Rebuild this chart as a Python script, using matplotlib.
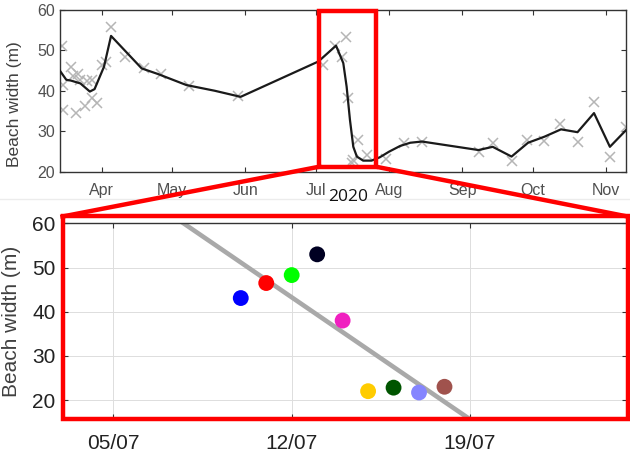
#!/usr/bin/env python
# -*- coding: utf-8 -*-

import matplotlib
matplotlib.use('Agg')
import matplotlib.pyplot as plt
import matplotlib.dates as mdates
from matplotlib.patches import Rectangle
from matplotlib.lines import Line2D
import numpy as np
import pandas as pd

W, H = 630, 454

# smoothed beach width over the season
trend_dates = ['2020-03-14 08:00', '2020-03-17', '2020-03-19', '2020-03-23',
               '2020-03-27', '2020-03-29', '2020-04-02', '2020-04-05',
               '2020-04-18', '2020-04-25', '2020-05-07', '2020-05-19',
               '2020-05-30', '2020-07-02', '2020-07-09 12:00',
               '2020-07-12 14:00', '2020-07-14', '2020-07-15 10:00',
               '2020-07-16 20:00', '2020-07-18 08:00', '2020-07-21',
               '2020-07-24 14:00', '2020-07-28', '2020-08-01', '2020-08-05 16:00',
               '2020-08-10', '2020-08-15', '2020-09-08', '2020-09-14',
               '2020-09-22', '2020-09-29', '2020-10-06', '2020-10-13',
               '2020-10-20', '2020-10-27', '2020-11-02 18:00', '2020-11-09 14:00']
trend_width = [44.9, 42.7, 42.5, 41.8,
               39.8, 40.4, 45.9, 53.5,
               45.5, 44.1, 41.4, 40.0,
               38.5, 47.2, 51.1,
               46.8, 41.0, 32.8,
               26.2, 23.8, 22.8,
               22.8, 23.6, 25.0, 26.4,
               27.2, 27.5, 25.4, 26.2,
               23.8, 27.2, 28.7, 30.5,
               29.8, 34.5, 26.2, 30.3]

# individual shoreline detections
obs_dates = ['2020-03-15', '2020-03-15 16:00', '2020-03-15 16:00', '2020-03-19',
             '2020-03-20', '2020-03-22', '2020-03-21', '2020-03-23',
             '2020-03-26', '2020-03-28', '2020-03-25', '2020-03-28',
             '2020-03-30', '2020-04-01', '2020-04-03', '2020-04-05',
             '2020-04-11', '2020-04-19', '2020-04-26', '2020-05-08',
             '2020-05-29', '2020-07-04', '2020-07-09', '2020-07-12',
             '2020-07-13 16:00', '2020-07-14 16:00', '2020-07-16 20:00',
             '2020-07-16 08:00', '2020-07-19', '2020-07-22 20:00',
             '2020-07-30 16:00', '2020-08-07 12:00', '2020-08-14 20:00',
             '2020-09-08', '2020-09-14', '2020-09-22', '2020-09-28 12:00',
             '2020-10-05 20:00', '2020-10-12 16:00', '2020-10-20',
             '2020-10-27', '2020-11-02 18:00', '2020-11-09 14:00']
obs_width = [50.9, 41.4, 35.3, 45.9,
             43.6, 44.1, 34.6, 42.7,
             42.5, 42.7, 36.3, 38.1,
             37.1, 46.4, 47.2, 55.8,
             48.4, 45.5, 44.1, 41.2,
             38.7, 46.4, 51.0, 48.4,
             53.3, 38.1, 23.0,
             22.3, 28.0, 24.2,
             23.1, 27.1, 27.5,
             25.0, 27.1, 22.8, 27.9,
             27.7, 31.8, 27.5,
             37.3, 23.6, 31.2]

# zoom on the July event
zoom_dates = ['2020-07-10', '2020-07-11', '2020-07-12', '2020-07-13',
              '2020-07-14', '2020-07-15', '2020-07-16', '2020-07-17',
              '2020-07-18']
zoom_width = [43.1, 46.5, 48.3, 53.0, 38.0, 22.0, 22.8, 21.7, 23.0]
zoom_colors = ['#0000ff', '#ff0000', '#00ff00', '#000022', '#f020c0',
               '#ffcc00', '#005500', '#8585ff', '#a0524d']

month_ticks = ['2020-04-01', '2020-05-01', '2020-06-01', '2020-07-01',
               '2020-08-01', '2020-09-01', '2020-10-01', '2020-11-01']
zoom_ticks = ['2020-07-05', '2020-07-12', '2020-07-19']
width_ticks = [20, 30, 40, 50, 60]

SANS = ['Liberation Sans', 'DejaVu Sans']


def to_dt(strings):
    return pd.to_datetime(strings, format='mixed')


def fig_box(x0, y0, x1, y1):
    # pixel box (top-left origin) -> figure fraction [l, b, w, h]
    return [x0 / W, 1 - y1 / H, (x1 - x0) / W, (y1 - y0) / H]


def fig_pt(x, y):
    return x / W, 1 - y / H


def style_axis(ax, color, size):
    ax.tick_params(direction='in', top=True, right=True, length=3.5,
                   width=0.8, colors='#333333', labelcolor=color,
                   labelsize=size)
    for sp_ in ax.spines.values():
        sp_.set_color('#333333')
        sp_.set_linewidth(1.0)
    for lbl in ax.get_xticklabels() + ax.get_yticklabels():
        lbl.set_family(SANS)


def draw_season(fig):
    ax = fig.add_axes(fig_box(60, 9.5, 626, 172))
    ax.plot(to_dt(obs_dates), obs_width, 'x', color='#b5b5b5',
            ms=7, mew=1.1, zorder=2)
    ax.plot(to_dt(trend_dates), trend_width, '-', color='#1a1a1a',
            lw=1.6, zorder=3)
    ax.set_xlim(pd.Timestamp('2020-03-14 08:00'),
                pd.Timestamp('2020-11-09 14:00'))
    ax.set_ylim(20, 60)
    ax.set_yticks([20, 30, 40, 50, 60])
    ax.set_xticks(to_dt(month_ticks))
    ax.xaxis.set_major_formatter(mdates.DateFormatter('%b'))
    style_axis(ax, '#505050', 11.5)
    ax.tick_params(axis='x', pad=8)
    ax.set_ylabel('Beach width (m)', fontsize=12.5, color='#404040',
                  family=SANS)
    ax.yaxis.set_label_coords(-0.067, 0.42)
    return ax


def draw_zoom(fig):
    ax = fig.add_axes(fig_box(62.5, 223, 627, 419))
    ax.grid(True, color='#dddddd', lw=0.7, zorder=0)
    ax.set_axisbelow(True)

    xs = mdates.date2num(to_dt(zoom_dates))
    slope, icept = np.polyfit(xs, zoom_width, 1)
    xlo = pd.Timestamp('2020-07-03')
    xhi = pd.Timestamp('2020-07-25 04:00')
    fit_x = np.array([mdates.date2num(xlo), mdates.date2num(xhi)])
    ax.plot(fit_x, slope * fit_x + icept, '-', color='#a9a9a9', lw=3.3,
            zorder=2, solid_capstyle='butt')
    ax.scatter(xs, zoom_width, s=130, c=zoom_colors, edgecolors='none',
               zorder=3)

    ax.set_xlim(xlo, xhi)
    ax.set_ylim(15.7, 60.1)
    ax.set_yticks(width_ticks)
    ax.set_xticks(to_dt(zoom_ticks))
    ax.xaxis.set_major_formatter(mdates.DateFormatter('%d/%m'))
    style_axis(ax, '#222222', 15)
    ax.tick_params(axis='x', pad=11)
    ax.tick_params(axis='y', pad=5)
    ax.set_ylabel('Beach width (m)', fontsize=15, color='#404040',
                  family=SANS)
    ax.yaxis.set_label_coords(-0.0735, 0.5)
    return ax


def draw_callout(fig):
    red = '#ff0000'
    # faint edge of the pasted screenshot
    fig.add_artist(Line2D([0, 1], [1 - 199.5 / H] * 2, color='#ececec',
                          lw=1.0, transform=fig.transFigure, zorder=1))
    for box in [(319.3, 10.7, 376, 166.7), (62.5, 216.5, 627.5, 419)]:
        l, b, w, h = fig_box(*box)
        fig.add_artist(Rectangle((l, b), w, h, fill=False, ec=red, lw=3.2,
                                 transform=fig.transFigure, zorder=10))
    for (x0, y0), (x1, y1) in [((319.3, 166.7), (62.5, 216.5)),
                               ((376, 166.7), (627.5, 216.5))]:
        p0, p1 = fig_pt(x0, y0), fig_pt(x1, y1)
        fig.add_artist(Line2D([p0[0], p1[0]], [p0[1], p1[1]], color=red,
                              lw=3.2, transform=fig.transFigure, zorder=10,
                              solid_capstyle='projecting'))
    tx, ty = fig_pt(348, 197)
    fig.text(tx, ty, '2020', fontsize=12.5, color='#111111',
             family=['Open Sans', 'DejaVu Sans'], ha='center', va='center',
             zorder=11)


def main():
    fig = plt.figure(figsize=(W / 100, H / 100), dpi=100)
    draw_season(fig)
    draw_zoom(fig)
    draw_callout(fig)
    fig.savefig('out.png', dpi=100)
    plt.close(fig)


if __name__ == '__main__':
    main()
